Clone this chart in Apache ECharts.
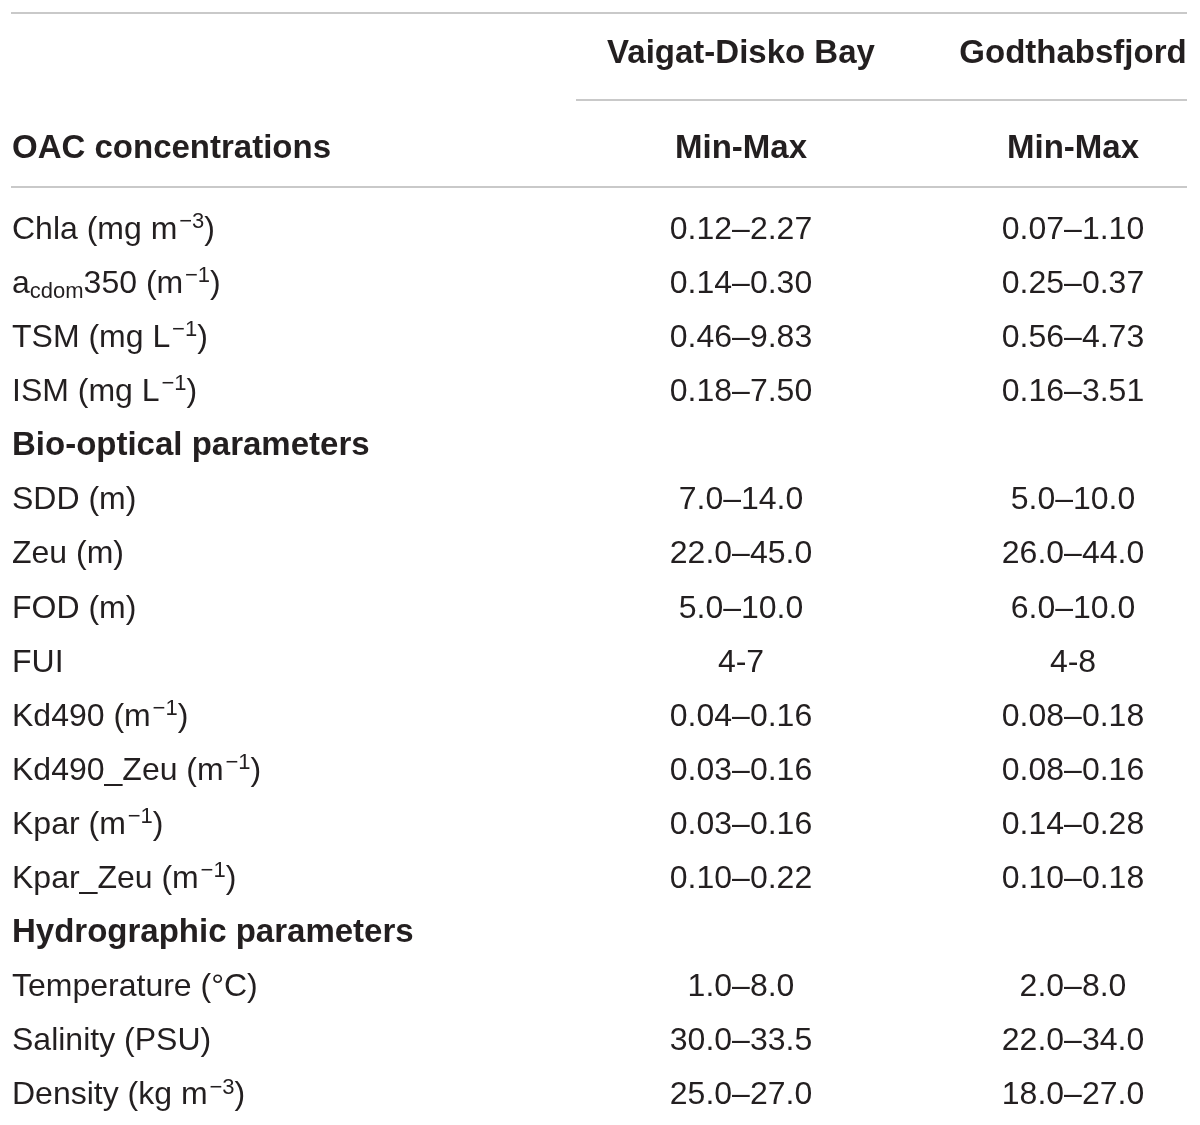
<!DOCTYPE html>
<html>
<head>
<meta charset="utf-8">
<title>OAC and bio-optical ranges</title>
<script src="https://cdn.jsdelivr.net/npm/echarts@6/dist/echarts.min.js"></script>
<style>
  html, body { margin: 0; padding: 0; background: #fff; }
  #main { width: 1200px; height: 1125px; }
</style>
</head>
<body>
<div id="main"></div>
<script>
// column headers
const regions = ['Vaigat-Disko Bay', 'Godthabsfjord']
const statLabel = 'Min-Max'
const groupTitles = ['OAC concentrations', 'Bio-optical parameters', 'Hydrographic parameters']

// OAC concentrations
const oacParams = ['Chla (mg m{sup|\u200a−3})', 'a{sub|cdom}350 (m{sup|\u200a−1})', 'TSM (mg L{sup|\u200a−1})', 'ISM (mg L{sup|\u200a−1})']
const oacVaigat = ['0.12–2.27', '0.14–0.30', '0.46–9.83', '0.18–7.50']
const oacGodthab = ['0.07–1.10', '0.25–0.37', '0.56–4.73', '0.16–3.51']

// bio-optical parameters
const bioParams = ['SDD (m)', 'Zeu (m)', 'FOD (m)', 'FUI', 'Kd490 (m{sup|\u200a−1})', 'Kd490_Zeu (m{sup|\u200a−1})', 'Kpar (m{sup|\u200a−1})', 'Kpar_Zeu (m{sup|\u200a−1})']
const bioVaigat = ['7.0–14.0', '22.0–45.0', '5.0–10.0', '4-7', '0.04–0.16', '0.03–0.16', '0.03–0.16', '0.10–0.22']
const bioGodthab = ['5.0–10.0', '26.0–44.0', '6.0–10.0', '4-8', '0.08–0.18', '0.08–0.16', '0.14–0.28', '0.10–0.18']

// hydrographic parameters
const hydroParams = ['Temperature (°C)', 'Salinity (PSU)', 'Density (kg m{sup|\u200a−3})']
const hydroVaigat = ['1.0–8.0', '30.0–33.5', '25.0–27.0']
const hydroGodthab = ['2.0–8.0', '22.0–34.0', '18.0–27.0']

const W = 1200
const H = 1125
const textColor = '#231f20'
const ruleColor = '#c9c9c9'
const colLeft = 12
const colMid = [741, 1073]
const firstRowY = 228
const rowStep = 54.1

const rich = {
  sup: { fontSize: 22, lineHeight: 16, verticalAlign: 'top', color: textColor, fontFamily: 'Liberation Sans' },
  sub: { fontSize: 22, lineHeight: 18, verticalAlign: 'bottom', color: textColor, fontFamily: 'Liberation Sans' }
}

// build body rows in order: group title, then its parameters
const groups = [
  [oacParams, oacVaigat, oacGodthab],
  [bioParams, bioVaigat, bioGodthab],
  [hydroParams, hydroVaigat, hydroGodthab]
]

const leftCells = []
const midCells = []
const boldLeft = []
let row = 0
groups.forEach((g, gi) => {
  if (gi > 0) {
    boldLeft.push([colLeft, firstRowY + row * rowStep, groupTitles[gi]])
    row++
  }
  g[0].forEach((name, i) => {
    const y = firstRowY + row * rowStep
    leftCells.push([colLeft, y, name])
    midCells.push([colMid[0], y, g[1][i]])
    midCells.push([colMid[1], y, g[2][i]])
    row++
  })
})

// header rows
boldLeft.push([colLeft, 147, groupTitles[0]])
const boldMid = [
  [colMid[0], 52, regions[0]],
  [colMid[1], 52, regions[1]],
  [colMid[0], 147, statLabel],
  [colMid[1], 147, statLabel]
]

function textSeries(data, align, bold) {
  return {
    type: 'scatter',
    symbolSize: 0,
    silent: true,
    itemStyle: { opacity: 1 },
    data: data,
    label: {
      show: true,
      position: 'inside',
      align: align,
      verticalAlign: 'middle',
      offset: [0, 2],
      formatter: p => p.data[2],
      color: textColor,
      opacity: 1,
      fontFamily: 'Liberation Sans',
      fontWeight: bold ? 'bold' : 'normal',
      fontSize: bold ? 33 : 32,
      lineHeight: 38,
      rich: rich
    }
  }
}

const rules = [
  [[11, 13], [1187, 13]],
  [[576, 100], [1187, 100]],
  [[11, 187], [1187, 187]]
]

const chart = echarts.init(document.getElementById('main'), null, { renderer: 'canvas' })
chart.setOption({
  animation: false,
  backgroundColor: '#ffffff',
  grid: { left: 0, right: 0, top: 0, bottom: 0 },
  xAxis: { type: 'value', min: 0, max: W, show: false },
  yAxis: { type: 'value', min: 0, max: H, inverse: true, show: false },
  series: [
    textSeries(leftCells, 'left', false),
    textSeries(midCells, 'center', false),
    textSeries(boldLeft, 'left', true),
    textSeries(boldMid, 'center', true),
    {
      type: 'lines',
      coordinateSystem: 'cartesian2d',
      silent: true,
      polyline: false,
      lineStyle: { color: ruleColor, width: 2, opacity: 1 },
      data: rules.map(r => ({ coords: r }))
    }
  ]
})
</script>
</body>
</html>
